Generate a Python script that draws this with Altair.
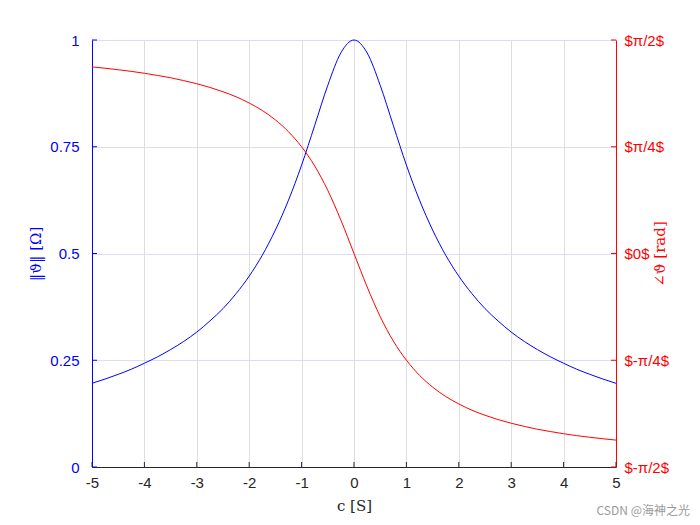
import math
import altair as alt
import pandas as pd

# ---- data ----
c_vals = [-5, -4.75, -4.5, -4.25, -4, -3.75, -3.5, -3.25, -3, -2.75, -2.5, -2.25, -2, -1.75,
          -1.5, -1.25, -1, -0.75, -0.5, -0.25, 0, 0.25, 0.5, 0.75, 1, 1.25, 1.5, 1.75, 2,
          2.25, 2.5, 2.75, 3, 3.25, 3.5, 3.75, 4, 4.25, 4.5, 4.75, 5]
magnitude = [0.196, 0.206, 0.217, 0.229, 0.243, 0.258, 0.275, 0.294, 0.316, 0.342, 0.371,
             0.406, 0.447, 0.496, 0.555, 0.625, 0.707, 0.800, 0.894, 0.970, 1.000, 0.970,
             0.894, 0.800, 0.707, 0.625, 0.555, 0.496, 0.447, 0.406, 0.371, 0.342, 0.316,
             0.294, 0.275, 0.258, 0.243, 0.229, 0.217, 0.206, 0.196]
phase = [1.373, 1.363, 1.352, 1.340, 1.326, 1.310, 1.293, 1.272, 1.249, 1.222, 1.190, 1.153,
         1.107, 1.052, 0.983, 0.896, 0.785, 0.644, 0.464, 0.245, 0.0, -0.245, -0.464, -0.644,
         -0.785, -0.896, -0.983, -1.052, -1.107, -1.153, -1.190, -1.222, -1.249, -1.272,
         -1.293, -1.310, -1.326, -1.340, -1.352, -1.363, -1.373]

x_ticks = [-5, -4, -3, -2, -1, 0, 1, 2, 3, 4, 5]
left_ticks = [0, 0.25, 0.5, 0.75, 1]
right_ticks = [-math.pi / 2, -math.pi / 4, 0, math.pi / 4, math.pi / 2]
right_labels = ["$-π/2$", "$-π/4$", "$0$", "$π/4$", "$π/2$"]

W, H = 524, 427

df = pd.DataFrame({"c": c_vals, "mag": magnitude, "phase": phase})
df_xt = pd.DataFrame({"t": x_ticks})
df_lt = pd.DataFrame({"t": left_ticks})
df_rt = pd.DataFrame({"t": right_ticks})

LABEL_FONT = "Liberation Sans"
TITLE_FONT = "DejaVu Serif"
LS = 15
TS = 15

x_scale = alt.Scale(domain=[-5, 5], nice=False)
x_axis = alt.Axis(values=x_ticks, labelExpr="'' + datum.value", title="c [S]",
                  tickSize=0, labelPadding=8, labelFont=LABEL_FONT, labelFontSize=LS,
                  labelFlush=False,
                  labelColor="#262626", domainColor="#262626", grid=True,
                  gridColor="#dedede", titleFont=TITLE_FONT, titleFontSize=TS,
                  titleFontWeight="normal", titleColor="#262626", titleX=W / 2, titleY=38,
                  titleBaseline="middle")

yl_scale = alt.Scale(domain=[0, 1], nice=False)
yl_axis = alt.Axis(values=left_ticks, labelExpr="'' + datum.value", orient="left",
                   title="‖ϑ‖ [Ω]", labelFlush=False,
                   tickSize=0, labelPadding=13, labelFont=LABEL_FONT, labelFontSize=LS,
                   labelColor="#0000ff", domainColor="#0000ff", grid=True,
                   gridColor="#dcdcf5", titleFont=TITLE_FONT, titleFontSize=TS,
                   titleFontWeight="normal", titleColor="#0000ff", titleAngle=270,
                   titleX=-57, titleY=H / 2, titleAlign="center", titleBaseline="middle")

yr_scale = alt.Scale(domain=[-math.pi / 2, math.pi / 2], nice=False)
label_expr = ("datum.value < -1 ? '$-π/2$' : datum.value < -0.5 ? '$-π/4$' : "
              "datum.value < 0.5 ? '$0$' : datum.value < 1 ? '$π/4$' : '$π/2$'")
yr_axis = alt.Axis(values=right_ticks, labelExpr=label_expr, orient="right",
                   title="∠ϑ [rad]", tickSize=0, labelPadding=8, labelFont=LABEL_FONT,
                   labelFlush=False,
                   labelFontSize=LS, labelColor="#ff0000", domainColor="#ff0000", grid=False,
                   titleFont=TITLE_FONT, titleFontSize=TS, titleFontWeight="normal",
                   titleColor="#ff0000", titleAngle=270, titleX=43, titleY=H / 2,
                   titleAlign="center", titleBaseline="middle")

blue = alt.Chart(df).mark_line(color="#0000ff", strokeWidth=1, interpolate="monotone").encode(
    x=alt.X("c:Q", scale=x_scale, axis=x_axis),
    y=alt.Y("mag:Q", scale=yl_scale, axis=yl_axis),
)
left_tk = alt.Chart(df_lt).mark_rule(color="#0000ff", strokeWidth=1).encode(
    x=alt.value(0), x2=alt.value(5),
    y=alt.Y("t:Q", scale=yl_scale, axis=yl_axis),
)
x_tk = alt.Chart(df_xt).mark_rule(color="#262626", strokeWidth=1).encode(
    x=alt.X("t:Q", scale=x_scale, axis=x_axis),
    y=alt.value(H - 5), y2=alt.value(H),
)
left_group = alt.layer(blue, left_tk, x_tk)

red = alt.Chart(df).mark_line(color="#ff0000", strokeWidth=1, interpolate="monotone").encode(
    x=alt.X("c:Q", scale=x_scale, axis=x_axis),
    y=alt.Y("phase:Q", scale=yr_scale, axis=yr_axis),
)
right_tk = alt.Chart(df_rt).mark_rule(color="#ff0000", strokeWidth=1).encode(
    x=alt.value(W - 5), x2=alt.value(W),
    y=alt.Y("t:Q", scale=yr_scale, axis=yr_axis),
)
right_group = alt.layer(red, right_tk)

wm = alt.Chart(pd.DataFrame({"w": ["CSDN @海神之光"]})).mark_text(
    align="right", baseline="middle", fontSize=12, color="#9a9a9a",
    font="Noto Sans CJK SC").encode(
    x=alt.value(598), y=alt.value(471), text="w:N")

chart = alt.layer(left_group, right_group, wm).resolve_scale(y="independent").properties(
    width=W, height=H,
    autosize=alt.AutoSizeParams(type="none"),
    padding={"left": 84, "top": 32, "right": 76, "bottom": 50},
).configure_view(stroke=None).configure(background="white")

chart.save("out.html", embed_options={"renderer": "svg", "actions": False})
